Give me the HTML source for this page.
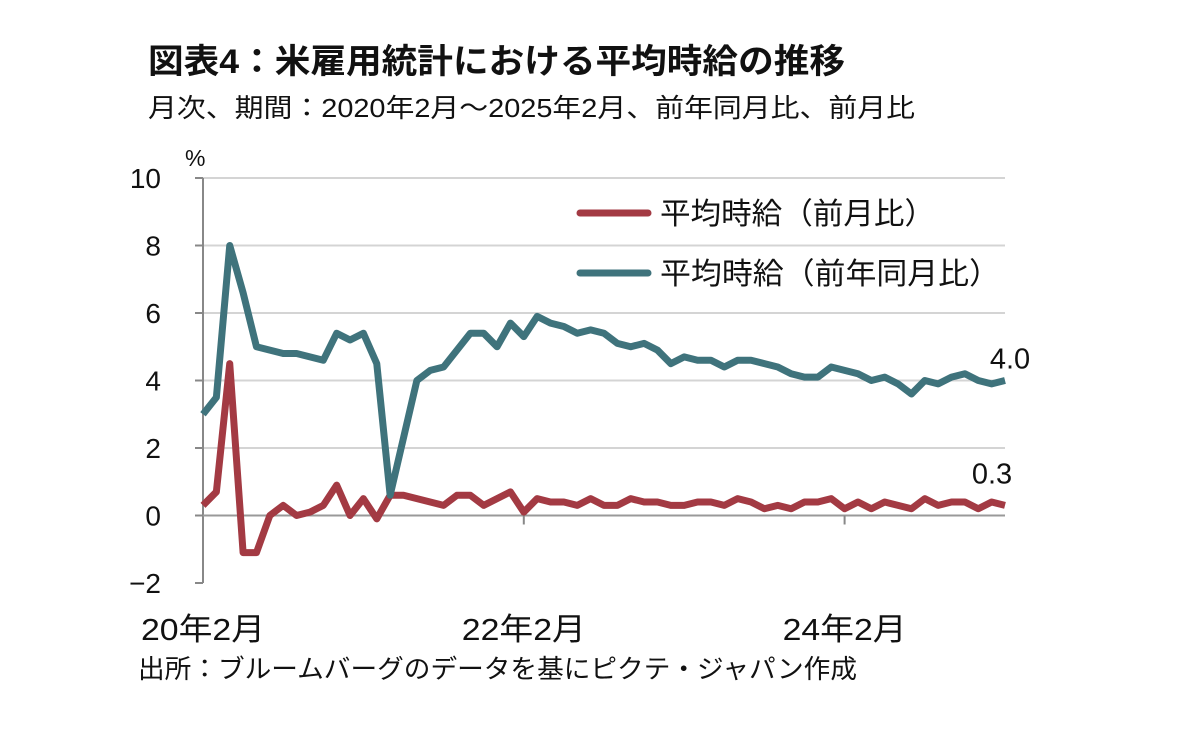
<!DOCTYPE html>
<html><head><meta charset="utf-8"><style>
body{margin:0;background:#fff;width:1182px;height:735px;overflow:hidden}
svg text{font-family:"Liberation Sans","Noto Sans CJK JP",sans-serif;fill:#111}
</style></head><body>
<svg id="c" width="1182" height="735">
<text x="148" y="73" font-size="34" font-weight="bold" textLength="697" lengthAdjust="spacingAndGlyphs">図表4：米雇用統計における平均時給の推移</text>
<text x="148" y="117" font-size="26" textLength="767" lengthAdjust="spacingAndGlyphs">月次、期間：2020年2月～2025年2月、前年同月比、前月比</text>
<text x="185" y="166" font-size="23">%</text>
<g id="grid"></g><g id="series"></g>
<text x="138" y="678" font-size="26" textLength="719" lengthAdjust="spacingAndGlyphs">出所：ブルームバーグのデータを基にピクテ・ジャパン作成</text>
<g>
<line x1="580" y1="213" x2="648" y2="213" stroke="#a33a43" stroke-width="7" stroke-linecap="round"/>
<text x="660" y="224" font-size="30" textLength="275" lengthAdjust="spacingAndGlyphs">平均時給（前月比）</text>
<line x1="580" y1="273" x2="648" y2="273" stroke="#3f737c" stroke-width="7" stroke-linecap="round"/>
<text x="660" y="284" font-size="30" textLength="340" lengthAdjust="spacingAndGlyphs">平均時給（前年同月比）</text>
</g>
</svg>
<script>
const yTicks=[-2,0,2,4,6,8,10];
const xLabels=["20年2月","22年2月","24年2月"];
const xLabelIdx=[0,24,48];
const yoy=[3.0,3.5,8.0,6.6,5.0,4.9,4.8,4.8,4.7,4.6,5.4,
5.2,5.4,4.5,0.6,2.3,4.0,4.3,4.4,4.9,5.4,5.4,5.0,
5.7,5.3,5.9,5.7,5.6,5.4,5.5,5.4,5.1,5.0,5.1,4.9,
4.5,4.7,4.6,4.6,4.4,4.6,4.6,4.5,4.4,4.2,4.1,4.1,
4.4,4.3,4.2,4.0,4.1,3.9,3.6,4.0,3.9,4.1,4.2,4.0,
3.9,4.0];
const mom=[0.3,0.7,4.5,-1.1,-1.1,0.0,0.3,0.0,0.1,0.3,0.9,
0.0,0.5,-0.1,0.6,0.6,0.5,0.4,0.3,0.6,0.6,0.3,0.5,
0.7,0.1,0.5,0.4,0.4,0.3,0.5,0.3,0.3,0.5,0.4,0.4,
0.3,0.3,0.4,0.4,0.3,0.5,0.4,0.2,0.3,0.2,0.4,0.4,
0.5,0.2,0.4,0.2,0.4,0.3,0.2,0.5,0.3,0.4,0.4,0.2,
0.4,0.3];
const NS="http://www.w3.org/2000/svg";
const X0=203,X1=1005,Y0=515.5,PU=33.75;
const x=i=>X0+i*(X1-X0)/60;
const y=v=>Y0-v*PU;
function mk(p,t,a){const e=document.createElementNS(NS,t);for(const k in a)e.setAttribute(k,a[k]);p.appendChild(e);return e;}
const g=document.getElementById('grid'),s=document.getElementById('series');
yTicks.forEach(v=>{
 if(v!==0&&v!==-2){const l=mk(g,'line',{x1:X0,x2:X1,y1:y(v),y2:y(v),stroke:'#d4d4d4','stroke-width':2});
 
 }
 const tk=mk(g,'line',{x1:X0-8,x2:X0,y1:y(v),y2:y(v),stroke:'#888','stroke-width':2});
 
 
 const t=mk(g,'text',{x:161,y:y(v)+10,'font-size':28,'text-anchor':'end'});
 t.textContent=v<0?'−'+(-v):v;
 
 
});
const ya=mk(g,'line',{x1:X0,x2:X0,y1:y(10),y2:y(-2),stroke:'#888','stroke-width':2});


const xa=mk(g,'line',{x1:X0,x2:X1,y1:y(0),y2:y(0),stroke:'#999','stroke-width':2});


xLabelIdx.forEach((idx,k)=>{
 if(idx>0){const tk=mk(g,'line',{x1:x(idx),x2:x(idx),y1:y(0),y2:y(0)+9,stroke:'#888','stroke-width':2});
 
 }
 const t=mk(g,'text',{x:x(idx)-62,y:640,'font-size':31,textLength:124,lengthAdjust:'spacingAndGlyphs'});
 t.textContent=xLabels[k];
 
 
});
function line(arr,col,name){
 const p=mk(s,'polyline',{points:arr.map((v,i)=>x(i)+','+y(v)).join(' '),fill:'none',stroke:col,'stroke-width':7,'stroke-linejoin':'round'});
 
 
}
line(mom,'#a33a43','series-mom');
line(yoy,'#3f737c','series-yoy');
const l1=mk(s,'text',{x:1010,y:y(yoy[60])-12,'font-size':29,'text-anchor':'middle'});
l1.textContent=yoy[60].toFixed(1);


const l2=mk(s,'text',{x:992,y:y(mom[60])-22,'font-size':29,'text-anchor':'middle'});
l2.textContent=mom[60].toFixed(1);


</script>
</body></html>
